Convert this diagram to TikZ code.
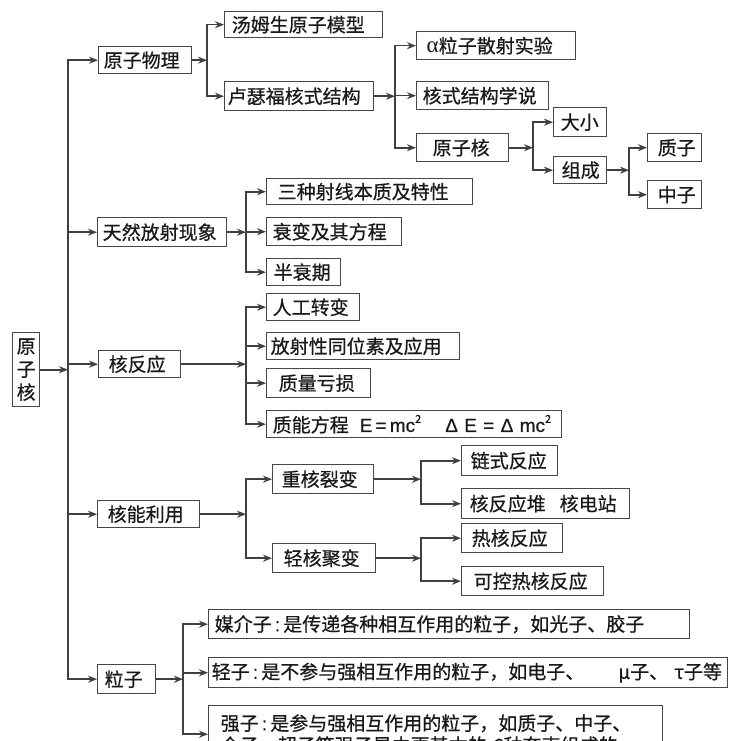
\documentclass[tikz,border=0pt]{standalone}
\usepackage{fontspec}
\setmainfont{Noto Sans CJK SC}[FakeBold=0.6]
\newfontfamily\lat{Liberation Sans}[FakeBold=0.5]
\newfontfamily\serf{Liberation Serif}
\usetikzlibrary{arrows.meta}
\newcommand\ZBox[7]{%
  \pgfmathsetmacro\ZW{#4-#2-2*#6}%
  \node[box, anchor=north west, inner xsep=#6pt, text width=\ZW pt, minimum height={#5-#3}] (#1) at (#2,-#3) {#7};}
\newcommand\ZSq{\raisebox{0.48em}{\fontsize{11}{11}\selectfont 2}}
\newcommand\ZCol{{\lat\,:\,}}
\begin{document}
\begin{tikzpicture}[x=1pt,y=1pt,
  box/.style={draw=black!72, line width=1.4pt, fill=white, inner ysep=0pt, align=left,
    text=black!90, font=\fontsize{19}{22}\selectfont},
  conn/.style={draw=black!75, line width=1.6pt},
  vline/.style={conn, line cap=rect},
  arr/.style={conn, -{Stealth[length=9pt,width=7pt]}}]
\useasboundingbox (0,0) rectangle (732,-741);
\clip (0,0) rectangle (732,-741);
\fill[white] (0,0) rectangle (732,-741);

% root
\node[box, anchor=north west, inner sep=0pt, minimum width=27, minimum height=74, align=center,
  font=\fontsize{19}{23}\selectfont] (root) at (12,-332) {原\\子\\核};

% level 1
\ZBox{a1}{98}{46}{191}{73}{5}{原子物理}
\ZBox{a2}{97}{217}{226}{246}{5}{天然放射现象}
\ZBox{a3}{98}{350}{180}{377}{10}{核反应}
\ZBox{a4}{97}{500}{199}{527}{10}{核能利用}
\ZBox{a5}{97}{664}{155}{693}{7}{粒子}

% atomic physics
\ZBox{b1}{224}{11}{382}{37}{7}{汤姆生原子模型}
\ZBox{b2}{224}{81}{373}{110}{3}{卢瑟福核式结构}
\ZBox{c1}{416}{31}{575}{59}{10}{\mbox{{\serf\fontsize{23}{22}\selectfont α}粒子散射实验}}
\ZBox{c2}{416}{81}{548}{109}{6}{核式结构学说}
\ZBox{c3}{416}{133}{508}{161}{16}{原子核}
\ZBox{d1}{553}{107}{606}{136}{7}{大小}
\ZBox{d2}{553}{156}{606}{183}{8}{组成}
\ZBox{e1}{647}{133}{701}{161}{10}{质子}
\ZBox{e2}{647}{180}{701}{208}{10}{中子}

% natural radioactivity
\ZBox{f1}{266}{178}{472}{204}{11}{三种射线本质及特性}
\ZBox{f2}{266}{217}{401}{245}{6}{衰变及其方程}
\ZBox{f3}{266}{258}{340}{285}{7}{半衰期}

% nuclear reactions
\ZBox{g1}{266}{293}{359}{320}{6}{人工转变}
\ZBox{g2}{266}{332}{459}{359}{4}{放射性同位素及应用}
\ZBox{g3}{266}{368}{370}{397}{12}{质量亏损}
\ZBox{g4}{266}{410}{561}{437}{6}{\mbox{质能方程\hspace{11pt}{\lat E\,=\,mc}\ZSq\hspace{24pt}{\lat Δ E = Δ mc}\ZSq}}

% nuclear energy
\ZBox{h1}{272}{464}{373}{493}{9}{重核裂变}
\ZBox{h2}{272}{543}{375}{572}{11}{轻核聚变}
\ZBox{i1}{461}{445}{557}{475}{9}{链式反应}
\ZBox{i2}{461}{488}{629}{518}{8}{\mbox{核反应堆\hspace{14pt}核电站}}
\ZBox{k1}{461}{523}{562}{552}{10}{热核反应}
\ZBox{k2}{461}{566}{603}{595}{12}{可控热核反应}

% particles
\ZBox{m1}{208}{609}{689}{638}{6}{\mbox{媒介子\ZCol 是传递各种相互作用的粒子，如光子、胶子}}
\ZBox{m2}{208}{657}{727}{687}{3}{\mbox{轻子\ZCol 是不参与强相互作用的粒子，如电子、\hspace{34pt}μ子、\hspace{6pt}τ子等}}
\ZBox{m3}{208}{705}{662}{762}{12}{\mbox{强子\ZCol 是参与强相互作用的粒子，如质子、中子、}\\\mbox{介子、超子等强子是由更基本的 6种夸克组成的}}

% junction coordinates
\coordinate (J0) at (68,0);
\coordinate (J1) at (207,0);
\coordinate (J2) at (395,0);
\coordinate (J3) at (533,0);
\coordinate (J4) at (629,0);
\coordinate (J5) at (246,0);
\coordinate (J8) at (421,0);
\coordinate (J10) at (183,0);

% root to level 1
\draw[arr] (root.east) -- (J0 |- root.east);
\draw[vline] (J0 |- a1.west) -- (J0 |- a5.west);
\foreach \n in {a1,a2,a3,a4,a5} \draw[arr] (J0 |- \n.west) -- (\n.west);

% 原子物理
\draw[arr] (a1.east) -- (J1 |- a1.east);
\draw[vline] (J1 |- b1.west) -- (J1 |- b2.west);
\foreach \n in {b1,b2} \draw[arr] (J1 |- \n.west) -- (\n.west);

% 卢瑟福
\draw[arr] (b2.east) -- (J2 |- b2.east);
\draw[vline] (J2 |- c1.west) -- (J2 |- c3.west);
\foreach \n in {c1,c2,c3} \draw[arr] (J2 |- \n.west) -- (\n.west);

% 原子核 inner
\draw[arr] (c3.east) -- (J3 |- c3.east);
\draw[vline] (J3 |- d1.west) -- (J3 |- d2.west);
\foreach \n in {d1,d2} \draw[arr] (J3 |- \n.west) -- (\n.west);

% 组成
\draw[arr] (d2.east) -- (J4 |- d2.east);
\draw[vline] (J4 |- e1.west) -- (J4 |- e2.west);
\foreach \n in {e1,e2} \draw[arr] (J4 |- \n.west) -- (\n.west);

% 天然放射现象
\draw[arr] (a2.east) -- (J5 |- a2.east);
\draw[vline] (J5 |- f1.west) -- (J5 |- f3.west);
\foreach \n in {f1,f2,f3} \draw[arr] (J5 |- \n.west) -- (\n.west);

% 核反应
\draw[arr] (a3.east) -- (J5 |- a3.east);
\draw[vline] (J5 |- g1.west) -- (J5 |- g4.west);
\foreach \n in {g1,g2,g3,g4} \draw[arr] (J5 |- \n.west) -- (\n.west);

% 核能利用
\draw[arr] (a4.east) -- (J5 |- a4.east);
\draw[vline] (J5 |- h1.west) -- (J5 |- h2.west);
\foreach \n in {h1,h2} \draw[arr] (J5 |- \n.west) -- (\n.west);

% 重核裂变
\draw[arr] (h1.east) -- (J8 |- h1.east);
\draw[vline] (J8 |- i1.west) -- (J8 |- i2.west);
\foreach \n in {i1,i2} \draw[arr] (J8 |- \n.west) -- (\n.west);

% 轻核聚变
\draw[arr] (h2.east) -- (J8 |- h2.east);
\draw[vline] (J8 |- k1.west) -- (J8 |- k2.west);
\foreach \n in {k1,k2} \draw[arr] (J8 |- \n.west) -- (\n.west);

% 粒子
\draw[arr] (a5.east) -- (J10 |- a5.east);
\draw[vline] (J10 |- m1.west) -- (J10 |- m3.west);
\foreach \n in {m1,m2,m3} \draw[arr] (J10 |- \n.west) -- (\n.west);
\end{tikzpicture}
\end{document}
